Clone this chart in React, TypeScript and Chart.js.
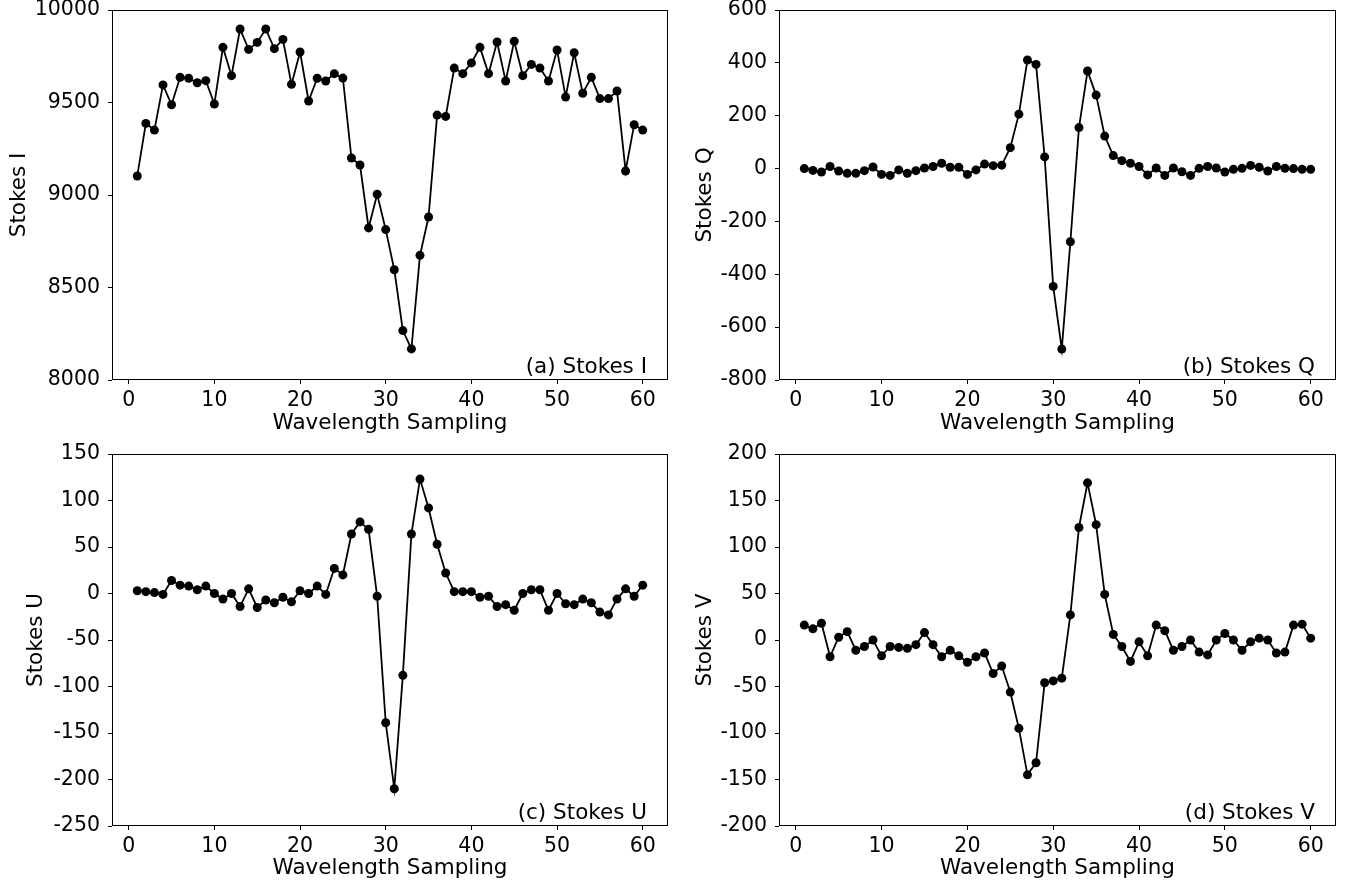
import React, { useEffect, useRef } from 'react';
import { Chart, registerables } from 'chart.js';

Chart.register(...registerables);

const samples = [1, 2, 3, 4, 5, 6, 7, 8, 9, 10, 11, 12, 13, 14, 15, 16, 17, 18, 19, 20, 21, 22, 23, 24, 25, 26, 27, 28, 29, 30, 31, 32, 33, 34, 35, 36, 37, 38, 39, 40, 41, 42, 43, 44, 45, 46, 47, 48, 49, 50, 51, 52, 53, 54, 55, 56, 57, 58, 59, 60];

const stokesI = [9103, 9387, 9351, 9595, 9488, 9636, 9631, 9607, 9618, 9492, 9798, 9645, 9897, 9787, 9825, 9897, 9791, 9841, 9598, 9773, 9508, 9631, 9616, 9656, 9632, 9200, 9162, 8822, 9004, 8813, 8596, 8267, 8168, 8674, 8881, 9432, 9425, 9686, 9656, 9714, 9798, 9656, 9827, 9616, 9831, 9645, 9706, 9686, 9616, 9784, 9530, 9769, 9550, 9636, 9521, 9521, 9562, 9130, 9380, 9351];
const stokesQ = [0, -7, -13, 8, -9, -18, -18, -8, 6, -22, -26, -5, -18, -8, 2, 8, 20, 5, 5, -22, -5, 17, 11, 13, 79, 206, 411, 394, 44, -446, -683, -277, 155, 369, 278, 123, 49, 30, 20, 8, -24, 2, -26, 2, -12, -26, 1, 8, 2, -13, -3, 1, 12, 5, -9, 8, 1, 0, -3, -3];
const stokesU = [3, 2, 1, -1, 14, 9, 8, 4, 8, 0, -6, 0, -14, 5, -15, -7, -10, -4, -9, 3, 0, 8, -1, 27, 20, 64, 77, 69, -3, -139, -210, -88, 64, 123, 92, 53, 22, 2, 2, 2, -4, -3, -14, -12, -18, 0, 4, 4, -18, 0, -11, -12, -6, -10, -20, -23, -6, 5, -3, 9];
const stokesV = [16, 12, 18, -18, 3, 9, -11, -7, 0, -17, -7, -8, -9, -5, 8, -5, -18, -11, -17, -24, -18, -14, -36, -28, -56, -95, -145, -132, -46, -44, -41, 27, 121, 169, 124, 49, 6, -7, -23, -2, -17, 16, 10, -11, -7, 0, -13, -16, 0, 7, 0, -11, -2, 2, 0, -14, -13, 16, 17, 2];

const xTicks = [0, 10, 20, 30, 40, 50, 60];
const iTicks = [8000, 8500, 9000, 9500, 10000];
const qTicks = [-800, -600, -400, -200, 0, 200, 400, 600];
const uTicks = [-250, -200, -150, -100, -50, 0, 50, 100, 150];
const vTicks = [-200, -150, -100, -50, 0, 50, 100, 150, 200];

const yTitles = ['Stokes I', 'Stokes Q', 'Stokes U', 'Stokes V'];
const panelNotes = ['(a) Stokes I', '(b) Stokes Q', '(c) Stokes U', '(d) Stokes V'];
const xTitle = 'Wavelength Sampling';

const seriesList = [stokesI, stokesQ, stokesU, stokesV];
const tickList = [iTicks, qTicks, uTicks, vTicks];

const FONT = 'DejaVu Sans';
const TICK_SIZE = 20.5;
const LABEL_SIZE = 21.5;

// layout of each panel (canvas placement and axis sizes)
const panels = [
  { left: 0, top: 0, w: 675, h: 442, yW: 112, padTop: 10, padRight: 7, xH: 62, yTitlePad: 7, xTitlePad: 6 },
  { left: 675, top: 0, w: 675, h: 442, yW: 104, padTop: 10, padRight: 14, xH: 62, yTitlePad: 18, xTitlePad: 6 },
  { left: 0, top: 442, w: 675, h: 442, yW: 112, padTop: 12, padRight: 7, xH: 58, yTitlePad: 24, xTitlePad: 3 },
  { left: 675, top: 442, w: 675, h: 442, yW: 104, padTop: 12, padRight: 14, xH: 58, yTitlePad: 18, xTitlePad: 3 },
];

function Panel({ idx }: { idx: number }) {
  const ref = useRef<HTMLCanvasElement | null>(null);
  const p = panels[idx];
  useEffect(() => {
    if (!ref.current) return;
    const values = seriesList[idx];
    const yt = tickList[idx];
    const note = panelNotes[idx];
    const framePlugin = {
      id: 'frameNote' + idx,
      afterDatasetsDraw(chart: any) {
        const { ctx, chartArea } = chart;
        ctx.save();
        ctx.strokeStyle = '#000';
        ctx.lineWidth = 1;
        const l = Math.round(chartArea.left) + 0.5;
        const t = Math.round(chartArea.top) + 0.5;
        const r = Math.round(chartArea.right) - 0.5;
        const b = Math.round(chartArea.bottom) - 0.5;
        ctx.strokeRect(l, t, r - l, b - t);
        ctx.fillStyle = '#000';
        ctx.font = `${LABEL_SIZE}px "${FONT}"`;
        ctx.textAlign = 'right';
        ctx.textBaseline = 'middle';
        ctx.fillText(note, chartArea.right - 21, chartArea.bottom - 13);
        ctx.restore();
      },
    };
    const chart = new Chart(ref.current, {
      type: 'line',
      data: {
        datasets: [
          {
            data: samples.map((s, i) => ({ x: s, y: values[i] })),
            borderColor: '#000',
            backgroundColor: '#000',
            borderWidth: 1.8,
            pointRadius: 4.5,
            pointBackgroundColor: '#000',
            pointBorderColor: '#000',
            pointBorderWidth: 0,
            tension: 0,
            fill: false,
          },
        ],
      },
      options: {
        responsive: false,
        animation: false,
        devicePixelRatio: 1,
        layout: { padding: { left: 0, top: p.padTop, right: p.padRight, bottom: 0 } },
        plugins: { legend: { display: false }, tooltip: { enabled: false }, title: { display: false } },
        scales: {
          x: {
            type: 'linear',
            min: -1.95,
            max: 62.95,
            afterBuildTicks: (scale: any) => {
              scale.ticks = xTicks.map((v) => ({ value: v }));
            },
            afterFit: (scale: any) => {
              scale.height = p.xH;
              scale.paddingLeft = 0;
              scale.paddingRight = 0;
            },
            border: { display: false },
            grid: { drawOnChartArea: false, drawTicks: true, tickLength: 4, tickColor: '#000', tickWidth: 1 },
            ticks: {
              color: '#000',
              font: { family: FONT, size: TICK_SIZE, lineHeight: 1.2 },
              padding: 4,
              maxRotation: 0,
              autoSkip: false,
              callback: (v: any) => String(v),
            },
            title: {
              display: true,
              text: xTitle,
              color: '#000',
              font: { family: FONT, size: LABEL_SIZE, lineHeight: 1.2 },
              padding: { top: 0, bottom: p.xTitlePad },
            },
          },
          y: {
            type: 'linear',
            min: yt[0],
            max: yt[yt.length - 1],
            afterBuildTicks: (scale: any) => {
              scale.ticks = yt.map((v) => ({ value: v }));
            },
            afterFit: (scale: any) => {
              scale.width = p.yW;
              scale.paddingTop = 0;
              scale.paddingBottom = 0;
            },
            border: { display: false },
            grid: { drawOnChartArea: false, drawTicks: true, tickLength: 4, tickColor: '#000', tickWidth: 1 },
            ticks: {
              color: '#000',
              font: { family: FONT, size: TICK_SIZE, lineHeight: 1.2 },
              padding: 8,
              autoSkip: false,
              callback: (v: any) => String(v),
            },
            title: {
              display: true,
              text: yTitles[idx],
              color: '#000',
              font: { family: FONT, size: LABEL_SIZE, lineHeight: 1.2 },
              padding: { top: p.yTitlePad, bottom: 0 },
            },
          },
        },
      },
      plugins: [framePlugin],
    } as any);
    return () => chart.destroy();
  }, [idx]);
  return (
    <canvas
      ref={ref}
      width={p.w}
      height={p.h}
      style={{ position: 'absolute', left: p.left, top: p.top, width: p.w, height: p.h }}
    />
  );
}

export default function App() {
  return (
    <div style={{ position: 'absolute', left: 0, top: 0, width: 1350, height: 884, background: '#fff' }}>
      <Panel idx={0} />
      <Panel idx={1} />
      <Panel idx={2} />
      <Panel idx={3} />
    </div>
  );
}
